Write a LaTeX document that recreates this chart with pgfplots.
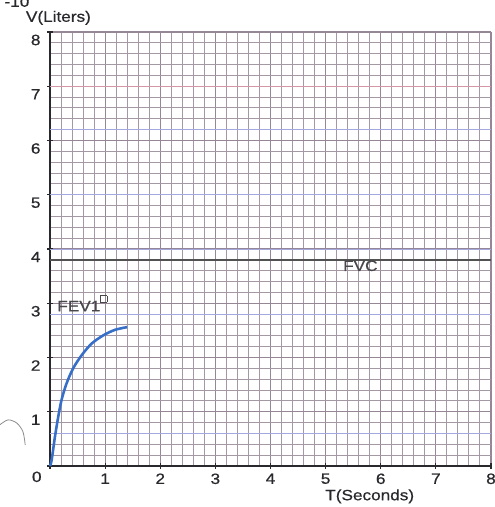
\documentclass[border=0pt]{standalone}
\usepackage{pgfplots}
\pgfplotsset{compat=1.18}
\usepackage{fontspec}
\setmainfont{Liberation Sans}[FakeStretch=1.15, FakeBold=0.6]
\definecolor{gridc}{RGB}{165,152,165}
\definecolor{majc}{RGB}{150,135,150}
\definecolor{pinkc}{RGB}{210,150,165}
\definecolor{bluec}{RGB}{165,168,222}
\definecolor{curvec}{RGB}{55,110,200}
\definecolor{axc}{RGB}{40,40,45}
\begin{document}
\begin{tikzpicture}
\begin{axis}[
  scale only axis,
  width=441bp, height=434bp,
  xmin=0, xmax=8, ymin=0, ymax=8,
  clip=false,
  axis x line*=bottom, axis y line*=left,
  axis line style={axc, line width=1.6pt, -},
  xtick={0,...,8}, ytick={0,...,8},
  xticklabels={,1,2,3,4,5,6,7,8},
  yticklabels={,1,2,3,4,5,6,7,8},
  minor tick num=4,
  grid=both,
  minor grid style={gridc, line width=1.0pt},
  major grid style={majc, line width=1.1pt},
  tick align=center,
  major tick length=6bp,
  minor tick length=0pt,
  tick style={axc, line width=1.2pt},
  ticklabel style={font=\fontsize{15}{15}\selectfont, text=axc},
  xticklabel style={yshift=-1bp},
  yticklabel style={yshift=-8bp, xshift=-3bp},
  /pgf/number format/assume math mode=true,
]
% coloured rulings of the paper
\addplot[pinkc, line width=1.0pt] coordinates {(0,7) (8,7)};
\addplot[bluec, line width=1.0pt] coordinates {(0,6.2) (8,6.2)};
\addplot[bluec, line width=1.0pt] coordinates {(0,5.0) (8,5.0)};
\addplot[bluec, line width=0.8pt] coordinates {(0,4.0) (8,4.0)};
\addplot[bluec, line width=1.0pt] coordinates {(0,2.8) (8,2.8)};
\addplot[bluec, line width=1.0pt] coordinates {(0,0.6) (8,0.6)};
% FVC line
\addplot[black!68, line width=1.6pt] coordinates {(0,3.8) (8,3.8)};
% volume-time curve
\addplot[curvec, line width=2.6pt, smooth] coordinates {
(0,0) (0.03,0.11) (0.09,0.54) (0.15,0.91) (0.21,1.22) (0.30,1.52)
(0.42,1.80) (0.58,2.05) (0.76,2.26) (0.97,2.41) (1.18,2.51) (1.40,2.56)};
% stray pencil arc
\addplot[black!45, line width=0.8pt, smooth] coordinates {
(-0.91,0.76) (-0.76,0.85) (-0.60,0.79) (-0.49,0.63) (-0.45,0.39)};
\node[font=\fontsize{15}{15}\selectfont, text=axc] at (axis cs:-0.24,-0.2) {0};
\node[font=\fontsize{15}{15}\selectfont, text=axc, anchor=west] at (axis cs:-0.5,8.26) {V(Liters)};
\node[font=\fontsize{15}{15}\selectfont, text=axc] at (axis cs:5.8,-0.56) {T(Seconds)};
\node[font=\fontsize{15}{15}\selectfont, text=axc] at (axis cs:-0.6,8.56) {-10};
\node[font=\fontsize{15}{15}\selectfont, text=axc!85] at (axis cs:5.63,3.69) {FVC};
\node[font=\fontsize{15}{15}\selectfont, text=axc!85, anchor=west, inner sep=0pt] at (axis cs:0.13,3.0) {FEV1\raisebox{1.2ex}{\fboxsep=0pt\fboxrule=0.5pt\fbox{\rule{0pt}{6bp}\hspace{6bp}}}};
\coordinate (bl) at (axis cs:-0.907,-0.756);
\coordinate (tr) at (axis cs:8.058,8.59);
\end{axis}
\pgfresetboundingbox
\path[use as bounding box] (bl) rectangle (tr);
\end{tikzpicture}
\end{document}
